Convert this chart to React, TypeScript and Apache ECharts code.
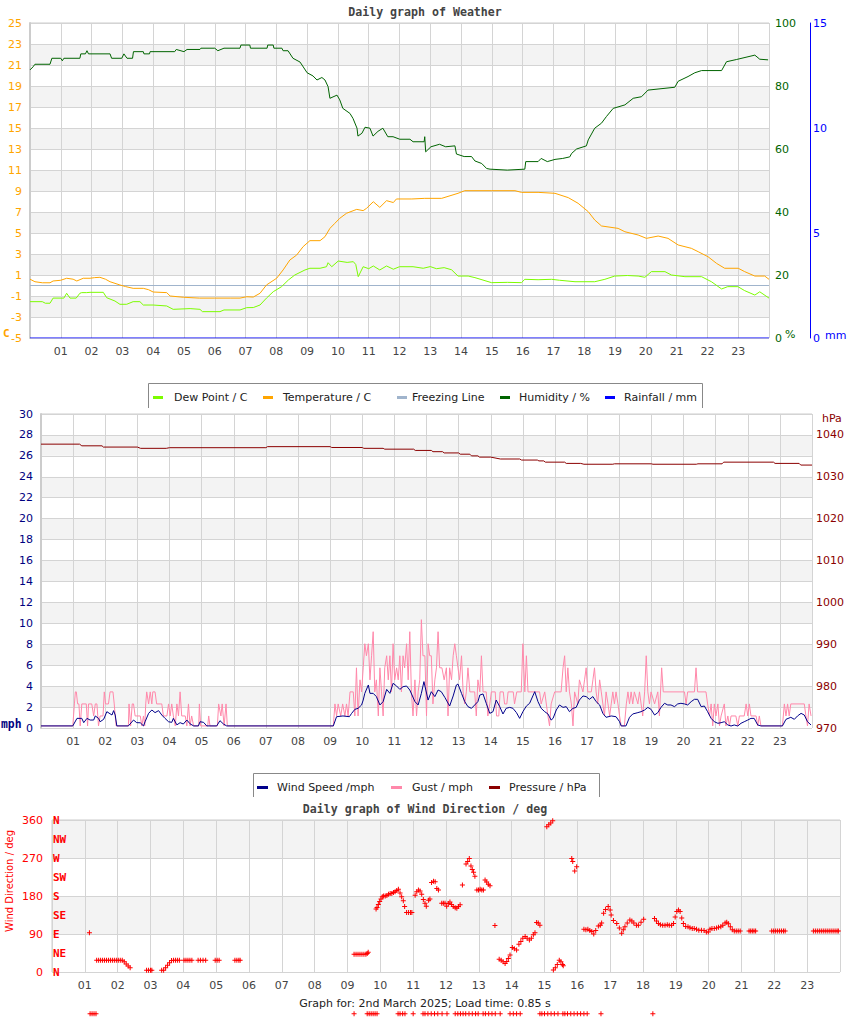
import React, { useEffect, useRef } from 'react';
import * as echarts from 'echarts';

const SANS = '"DejaVu Sans", sans-serif';
const MONO = '"DejaVu Sans Mono", monospace';

const hourLabels = ['01','02','03','04','05','06','07','08','09','10','11','12','13','14','15','16','17','18','19','20','21','22','23'];
const compassLabels = ['N', 'NE', 'E', 'SE', 'S', 'SW', 'W', 'NW', 'N'];

const legendWeather = ['Dew Point / C', 'Temperature / C', 'Freezing Line', 'Humidity / %', 'Rainfall / mm'];
const legendWind = ['Wind Speed /mph', 'Gust / mph', 'Pressure / hPa'];

// [hour, °C]
const temperature: [number, number][] = [
  [0,0.6],[0.16,0.36],[0.4,0.26],[0.65,0.26],[0.75,0.43],[1.0,0.5],[1.19,0.69],[1.4,0.6],[1.52,0.43],[1.73,0.69],[1.95,0.69],[2.1,0.75],[2.27,0.78],[2.45,0.6],[2.6,0.36],[2.92,0.05],[3.1,-0.1],[3.35,-0.27],[3.68,-0.27],[3.85,-0.4],[4.0,-0.62],[4.44,-0.68],[4.55,-1.0],[4.98,-1.12],[5.5,-1.2],[6.0,-1.2],[6.5,-1.2],[6.82,-1.2],[7.04,-1.07],[7.25,-1.1],[7.47,-0.74],[7.68,0.05],[8.01,0.69],[8.22,1.48],[8.44,2.43],[8.66,2.9],[8.87,3.7],[9.09,4.27],[9.42,4.27],[9.58,4.65],[9.74,5.44],[9.9,5.92],[10.06,6.4],[10.28,6.88],[10.61,7.25],[10.82,7.13],[10.93,7.35],[11.15,7.98],[11.36,7.44],[11.58,8.08],[11.8,7.9],[11.9,8.24],[12.4,8.24],[12.82,8.3],[13.37,8.3],[13.9,8.78],[14.12,9.03],[15.0,9.03],[15.75,9.03],[15.96,8.87],[16.5,8.87],[17.05,8.78],[17.48,8.37],[17.8,7.83],[18.13,7.03],[18.34,6.24],[18.56,5.67],[19.1,5.44],[19.32,5.12],[19.75,4.81],[20.02,4.49],[20.4,4.71],[20.72,4.49],[21.05,3.86],[21.48,3.54],[21.7,3.22],[22.02,2.74],[22.3,2.1],[22.56,1.64],[23.0,1.64],[23.21,1.32],[23.54,0.9],[23.86,0.9],[24,0.59]
];

// [hour, °C]
const dewPoint: [number, number][] = [
  [0,-1.54],[0.4,-1.54],[0.5,-1.69],[0.65,-1.69],[0.75,-1.2],[1.1,-1.2],[1.19,-0.74],[1.3,-1.2],[1.5,-1.2],[1.62,-0.74],[1.68,-0.68],[1.84,-0.68],[1.95,-0.65],[2.38,-0.65],[2.49,-1.16],[2.76,-1.48],[2.92,-1.79],[3.14,-1.79],[3.35,-1.54],[3.57,-1.54],[3.68,-1.86],[4.0,-1.86],[4.44,-1.95],[4.65,-2.27],[5.2,-2.2],[5.52,-2.27],[5.6,-2.49],[6.17,-2.49],[6.3,-2.33],[6.82,-2.33],[7.04,-2.11],[7.25,-2.1],[7.47,-1.86],[7.68,-1.2],[7.9,-0.59],[8.17,-0.11],[8.39,0.52],[8.6,1.0],[8.93,1.48],[9.09,1.64],[9.42,1.64],[9.63,1.79],[9.68,2.17],[9.8,1.79],[10.01,2.33],[10.3,2.2],[10.5,2.27],[10.58,2.0],[10.66,0.84],[10.82,1.79],[11.0,1.6],[11.15,1.86],[11.36,1.48],[11.58,1.86],[11.8,1.55],[12.0,1.79],[12.44,1.79],[12.77,1.64],[13.0,1.8],[13.2,1.6],[13.45,1.7],[13.69,1.5],[13.9,0.9],[14.23,0.9],[14.45,0.75],[14.99,0.27],[15.5,0.3],[15.96,0.27],[16.07,0.59],[16.5,0.55],[16.94,0.59],[17.2,0.5],[17.7,0.36],[18.34,0.36],[18.67,0.59],[18.99,0.9],[19.4,0.95],[19.75,0.9],[19.97,0.78],[20.18,1.32],[20.62,1.32],[20.83,1.0],[21.27,0.84],[21.81,0.84],[22.13,0.36],[22.46,-0.33],[22.66,-0.11],[22.99,-0.11],[23.21,-0.49],[23.54,-0.91],[23.7,-0.6],[24,-1.2]
];

// [hour, %]
const humidity: [number, number][] = [
  [0,85.1],[0.1,86.1],[0.16,86.9],[0.65,86.9],[0.71,88.8],[1.0,88.8],[1.05,88.0],[1.1,88.8],[1.62,88.8],[1.65,90.2],[1.8,90.2],[1.85,91.2],[1.9,90.2],[2.6,90.2],[2.65,88.8],[2.98,88.8],[3.05,90.2],[3.15,88.8],[3.33,88.8],[3.36,90.9],[3.68,90.9],[3.7,90.2],[3.88,90.2],[3.9,90.9],[4.7,90.9],[4.75,91.6],[5.0,90.9],[5.1,91.6],[5.52,91.6],[5.55,92.0],[6.0,92.0],[6.1,91.2],[6.3,92.0],[6.82,92.0],[6.85,93.0],[7.14,93.0],[7.16,92.0],[7.7,92.0],[7.72,93.0],[7.9,93.0],[7.92,92.0],[8.18,92.0],[8.22,91.2],[8.38,91.2],[8.54,88.8],[8.77,87.6],[9.0,84.2],[9.19,83.2],[9.32,81.9],[9.48,82.7],[9.58,81.9],[9.68,79.8],[9.74,76.1],[9.97,77.1],[10.06,75.6],[10.16,72.9],[10.39,71.3],[10.49,69.7],[10.62,66.6],[10.65,64.1],[10.78,65.0],[10.88,66.9],[11.04,66.6],[11.14,64.1],[11.3,65.6],[11.46,66.6],[11.62,63.9],[11.79,63.9],[12.01,63.1],[12.34,63.1],[12.44,62.3],[12.8,62.3],[12.82,63.9],[12.85,59.1],[13.02,60.7],[13.3,61.5],[13.5,60.7],[13.8,61.0],[13.85,58.4],[14.1,57.6],[14.34,57.6],[14.45,56.2],[14.67,55.4],[14.83,53.8],[14.94,53.6],[15.5,53.3],[16.07,53.6],[16.1,56.0],[16.5,56.0],[16.6,57.0],[16.8,56.0],[17.05,56.7],[17.3,57.0],[17.53,57.5],[17.59,58.6],[17.75,60.0],[18.07,61.0],[18.13,62.9],[18.34,66.6],[18.56,68.2],[18.72,70.3],[18.94,72.9],[19.32,74.0],[19.59,76.1],[19.86,76.6],[20.07,78.7],[20.94,79.6],[21.05,81.5],[21.37,83.0],[21.59,84.2],[21.81,84.9],[22.46,84.9],[22.62,87.7],[22.94,88.4],[23.54,89.8],[23.7,88.5],[23.97,88.3]
];

const freezingLine: [number, number][] = [[0, 0], [24, 0]];
const rainfall: [number, number][] = [[0, 0], [24, 0]];

// [hour, mph]
const windSpeed: [number, number][] = [
  [0,0.2],[0.99,0.2],[1.12,0.92],[1.27,0.92],[1.33,0.51],[1.43,0.92],[1.53,0.76],[1.64,0.76],[1.69,1.15],[1.79,0.92],[1.84,0.6],[1.95,0.83],[2.05,1.56],[2.21,1.24],[2.26,1.66],[2.31,1.24],[2.36,0.2],[2.72,0.2],[2.88,0.76],[2.98,0.51],[3.09,0.5],[3.19,0.2],[3.24,0.6],[3.35,1.4],[3.45,1.72],[3.55,1.47],[3.66,1.66],[3.76,1.24],[3.86,0.92],[3.97,0.6],[4.07,0.54],[4.12,0.92],[4.23,0.3],[4.33,0.51],[4.43,0.38],[4.54,0.76],[4.64,0.4],[4.75,0.2],[4.9,0.2],[4.95,0.6],[5.06,0.54],[5.16,0.2],[5.47,0.2],[5.57,0.7],[5.68,0.38],[5.78,0.2],[9.1,0.2],[9.2,1.08],[9.4,1.15],[9.6,1.08],[9.67,1.4],[9.77,1.78],[9.87,1.88],[9.98,2.2],[10.03,2.67],[10.08,3.31],[10.19,4.11],[10.24,3.31],[10.34,3.31],[10.44,3.0],[10.55,2.2],[10.65,2.52],[10.76,3.69],[10.86,3.31],[10.96,4.27],[11.07,4.01],[11.17,3.69],[11.27,3.95],[11.38,4.01],[11.48,3.63],[11.64,2.52],[11.74,2.2],[11.84,3.31],[11.92,4.43],
  [12.05,2.67],[12.15,3.47],[12.26,3.0],[12.36,3.63],[12.46,3.47],[12.57,2.93],[12.72,2.1],[12.83,3.06],[12.93,4.11],[12.98,4.2],[13.09,3.31],[13.19,2.52],[13.29,2.04],[13.4,1.88],[13.5,2.2],[13.6,2.52],[13.66,3.15],[13.76,3.25],[13.86,2.36],[13.97,1.4],[14.07,1.56],[14.17,2.67],[14.28,2.04],[14.38,1.34],[14.48,1.88],[14.59,1.97],[14.69,1.88],[14.8,1.47],[14.9,0.92],[15.0,1.56],[15.11,2.1],[15.21,2.36],[15.31,3.06],[15.37,3.47],[15.47,2.52],[15.57,1.88],[15.68,1.56],[15.78,1.34],[15.88,0.76],[15.94,0.92],[16.04,1.72],[16.14,2.2],[16.25,1.97],[16.35,2.04],[16.45,1.56],[16.56,1.88],[16.66,1.97],[16.76,2.67],[16.87,3.06],[16.97,3.0],[17.07,2.74],[17.18,3.0],[17.28,2.52],[17.39,2.2],[17.49,1.4],[17.59,1.02],[17.75,1.15],[17.9,1.08],[18.01,0.6],[18.06,0.2],[18.21,0.2],[18.32,1.02],[18.42,1.34],[18.58,1.47],[18.68,1.56],[18.79,1.72],[18.89,1.97],[18.99,1.78],[19.1,1.24],[19.2,1.47],[19.3,1.97],[19.41,2.36],[19.51,2.2],[19.61,2.2],[19.72,2.04],[19.82,2.3],[19.92,2.36],[20.03,2.3],[20.13,2.2],[20.24,2.52],[20.34,2.74],[20.44,2.74],[20.55,2.04],[20.65,2.1],[20.75,1.56],[20.86,0.92],[20.96,0.6],[21.07,0.45],[21.17,0.51],[21.27,0.6],[21.38,0.29],[21.48,0.19],[21.58,0.29],[21.69,0.19],[21.79,0.45],[21.89,0.6],[22.0,0.76],[22.1,0.92],[22.2,0.92],[22.31,0.29],[22.41,0.2],[23.08,0.2],[23.19,0.83],[23.34,1.02],[23.45,0.83],[23.55,1.15],[23.66,1.4],[23.76,1.24],[23.86,0.6],[23.97,0.29]
];

// [hour, mph]
const gust: [number, number][] = [
  [0,0.2],[0.99,0.2],[1.04,2.3],[1.07,3.45],[1.1,3.45],[1.14,2.3],[1.18,2.3],[1.22,0.2],[1.27,2.3],[1.41,2.3],[1.45,0.2],[1.48,2.3],[1.58,2.3],[1.64,1.15],[1.69,2.3],[1.74,2.3],[1.79,0.2],[1.84,1.15],[1.93,1.15],[1.97,3.45],[2.01,2.3],[2.1,2.3],[2.15,3.45],[2.24,3.45],[2.28,2.3],[2.31,1.15],[2.34,0.2],
  [2.72,0.2],[2.74,2.3],[2.79,0.2],[2.84,2.3],[2.88,2.3],[2.93,1.15],[3.09,1.15],[3.14,0.2],[3.19,1.15],[3.23,0.2],[3.26,2.3],[3.29,3.45],[3.35,2.3],[3.4,3.45],[3.45,2.3],[3.48,3.45],[3.55,3.45],[3.6,2.3],[3.71,2.3],[3.76,2.3],[3.81,1.15],[3.92,1.15],[3.97,2.3],[4.02,1.15],[4.07,2.3],[4.12,1.15],[4.18,0.2],[4.23,2.3],[4.28,1.15],[4.33,3.45],[4.38,1.15],[4.49,1.15],[4.54,0.2],[4.59,2.3],[4.64,0.2],[4.69,1.15],[4.75,0.2],[4.91,0.2],[4.93,2.3],[4.97,0.2],[5.19,0.2],[5.22,1.15],[5.26,0.2],[5.49,0.2],[5.53,2.3],[5.6,1.15],[5.64,2.3],[5.7,0.2],[5.76,2.3],[5.8,0.2],
  [9.1,0.2],[9.15,2.3],[9.2,1.15],[9.25,2.3],[9.33,1.15],[9.39,2.3],[9.46,1.15],[9.51,2.3],[9.56,1.15],[9.62,3.45],[9.72,3.45],[9.77,1.15],[9.82,5.75],[9.87,1.15],[9.93,4.6],[9.98,3.45],[10.03,5.75],[10.08,8.05],[10.13,6.9],[10.19,8.05],[10.24,4.6],[10.29,6.9],[10.34,9.2],[10.39,3.45],[10.44,4.6],[10.5,1.15],[10.55,5.75],[10.6,3.45],[10.65,1.15],[10.7,5.75],[10.76,6.9],[10.81,4.6],[10.86,6.9],[10.91,3.45],[10.96,8.05],[11.01,4.6],[11.07,5.75],[11.12,4.6],[11.17,6.9],[11.22,3.45],[11.27,6.9],[11.32,5.75],[11.38,8.05],[11.43,4.6],[11.48,9.2],[11.53,3.45],[11.58,1.15],[11.64,4.6],[11.69,1.15],[11.74,3.45],[11.79,4.6],[11.84,10.35],[11.89,6.9],[11.95,6.9],
  [12.0,1.15],[12.05,8.05],[12.1,6.9],[12.15,6.9],[12.2,2.3],[12.26,4.6],[12.31,5.75],[12.36,9.2],[12.41,5.75],[12.48,5.75],[12.55,4.6],[12.62,5.75],[12.67,1.15],[12.72,5.75],[12.78,4.6],[12.83,6.9],[12.88,8.05],[12.93,6.9],[12.98,5.75],[13.03,4.6],[13.09,6.9],[13.14,3.45],[13.19,2.3],[13.24,3.45],[13.29,5.75],[13.35,3.45],[13.5,3.45],[13.55,1.15],[13.6,4.6],[13.66,3.45],[13.71,6.9],[13.76,3.45],[13.86,3.45],[13.91,1.15],[13.97,2.3],[14.02,3.45],[14.14,3.45],[14.18,1.15],[14.25,1.15],[14.29,3.45],[14.39,3.45],[14.43,2.3],[14.5,2.3],[14.54,3.45],[14.7,3.45],[14.74,2.3],[14.81,3.45],[14.95,3.45],[15.0,8.05],[15.06,3.45],[15.11,6.9],[15.16,3.45],[15.52,3.45],[15.57,2.3],[15.68,3.45],[15.78,1.15],[15.83,0.2],[15.88,2.3],[15.99,3.45],[16.19,3.45],[16.25,5.75],[16.3,6.9],[16.35,3.45],[16.4,5.75],[16.45,3.45],[16.51,2.3],[16.56,0.2],[16.61,3.45],[16.71,2.3],[16.76,4.6],[16.87,3.45],[16.92,4.6],[16.97,5.75],[17.02,3.45],[17.13,3.45],[17.18,4.6],[17.23,5.75],[17.28,3.45],[17.33,2.3],[17.39,4.6],[17.44,3.45],[17.49,2.3],[17.54,1.15],[17.59,3.45],[17.65,2.3],[17.7,1.15],[17.75,2.3],[17.8,3.45],[17.85,2.3],[17.9,3.45],[17.96,2.3],[18.01,1.15],[18.06,0.2],[18.16,0.2],[18.22,2.3],[18.27,3.45],[18.32,2.3],[18.37,3.45],[18.42,2.3],[18.47,3.45],[18.58,2.3],[18.63,3.45],[18.68,2.3],[18.73,1.15],[18.79,3.45],[18.84,6.9],[18.89,3.45],[18.94,2.3],[18.99,3.45],[19.1,2.3],[19.2,3.45],[19.25,1.15],[19.32,5.75],[19.37,3.45],[20.03,3.45],[20.08,2.3],[20.13,3.45],[20.34,3.45],[20.39,5.75],[20.44,3.45],[20.7,3.45],[20.75,2.3],[20.81,1.15],[20.86,2.3],[20.91,0.2],[20.96,2.3],[21.01,1.15],[21.07,2.3],[21.12,0.2],[21.17,1.15],[21.27,2.3],[21.32,0.2],[21.38,1.15],[21.43,0.2],[21.48,1.15],[21.63,1.15],[21.69,0.2],[21.74,1.15],[21.89,1.15],[21.95,2.3],[22.0,1.15],[22.05,2.3],[22.1,1.15],[22.26,1.15],[22.31,0.2],[22.36,1.15],[22.41,0.2],[23.08,0.2],[23.14,2.3],[23.19,1.15],[23.24,2.3],[23.29,1.15],[23.34,2.3],[23.76,2.3],[23.81,1.15],[23.86,0.2],[23.91,2.3],[23.97,1.15]
];

// [hour, hPa]
const pressure: [number, number][] = [
  [0,1037.8],[1.2,1037.8],[1.27,1037.4],[1.9,1037.4],[1.94,1037.1],[3.0,1037.1],[3.1,1036.8],[3.9,1036.8],[4.0,1036.95],[7.0,1036.95],[7.05,1037.2],[9.0,1037.2],[9.05,1037.0],[10.0,1037.0],[10.05,1036.8],[10.65,1036.8],[10.7,1036.6],[11.6,1036.6],[11.65,1036.3],[12.15,1036.3],[12.2,1036.0],[12.5,1036.0],[12.55,1035.7],[13.0,1035.7],[13.05,1035.4],[13.35,1035.4],[13.4,1035.0],[13.6,1035.0],[13.65,1034.7],[14.0,1034.7],[14.3,1034.25],[14.9,1034.25],[14.96,1034.0],[15.45,1034.0],[15.5,1033.8],[15.65,1033.8],[15.7,1033.5],[16.3,1033.5],[16.35,1033.2],[16.8,1033.2],[16.9,1033.0],[17.8,1033.0],[17.85,1033.1],[19.0,1033.1],[19.05,1033.0],[20.4,1033.0],[20.45,1033.1],[21.2,1033.1],[21.25,1033.5],[22.8,1033.5],[22.85,1033.2],[23.6,1033.2],[23.65,1032.8],[24,1032.8]
];

// [hour, degrees]
const windDirection: [number, number][] = [
  [1.14,93],
  [1.36,28],[1.42,28],[1.48,28],[1.54,28],[1.6,28],[1.66,28],[1.72,28],[1.78,28],[1.84,28],[1.9,28],[1.96,28],[2.02,28],[2.08,28],[2.14,28],[2.2,24],[2.26,19],[2.32,14],[2.38,10],
  [2.88,4],[2.94,4],[3.0,4],[3.04,4],
  [3.34,4],[3.4,4],[3.46,10],[3.52,16],[3.58,22],[3.64,27],[3.7,28],[3.76,28],[3.82,28],[3.88,28],
  [4.02,28],[4.08,28],[4.14,28],[4.2,28],[4.26,28],
  [4.45,28],[4.52,28],[4.6,28],[4.68,28],
  [4.97,28],[5.03,28],[5.09,28],
  [5.57,28],[5.63,28],[5.69,28],[5.73,28],
  [9.2,42],[9.26,42],[9.32,42],[9.38,42],[9.44,42],[9.5,42],[9.56,42],[9.6,44],[9.63,47],
  [9.87,149],[9.9,153],[9.94,160],[9.98,167],[10.02,173],[10.06,178],[10.1,180],[10.15,180],[10.2,181],[10.25,184],[10.3,186],[10.35,186],[10.4,188],[10.45,190],[10.5,193],[10.55,196],[10.6,187],[10.65,178],[10.7,169],[10.74,155],[10.8,141],[10.86,141],[10.92,141],[10.96,141],
  [11.06,182],[11.11,190],[11.16,194],[11.21,192],[11.26,184],[11.31,172],[11.36,163],[11.4,156],[11.47,170],[11.51,173],
  [11.56,212],[11.62,215],[11.67,214],[11.72,198],[11.77,194],
  [11.87,163],[11.92,163],[11.97,163],[12.02,156],[12.07,162],[12.12,166],[12.17,160],[12.22,155],[12.28,152],[12.33,151],[12.38,155],[12.43,159],
  [12.5,206],
  [12.61,256],[12.66,262],[12.71,269],[12.76,251],[12.8,243],[12.84,236],[12.88,227],
  [12.94,194],[12.99,194],[13.04,196],[13.09,194],[13.14,194],
  [13.19,218],[13.24,213],[13.29,208],[13.34,204],
  [13.49,110],
  [13.62,30],[13.68,28],[13.74,24],[13.8,20],[13.85,25],[13.9,32],[13.95,40],
  [14.02,58],[14.08,55],[14.15,52],
  [14.22,66],[14.28,72],[14.34,80],[14.41,84],[14.47,80],[14.54,76],[14.6,80],[14.66,88],[14.71,93],
  [14.76,117],[14.81,116],[14.86,111],
  [15.07,344],[15.13,349],[15.19,353],[15.25,358],
  [15.27,5],[15.33,10],[15.39,18],[15.45,28],[15.5,24],[15.55,18],[15.57,15],
  [15.83,269],[15.86,262],[15.92,239],[15.98,249],
  [16.2,101],[16.26,100],[16.32,101],[16.38,98],[16.44,96],[16.5,90],[16.56,98],[16.64,109],[16.7,111],[16.74,116],[16.8,139],[16.86,148],[16.94,155],[17.0,147],[17.03,135],[17.1,122],[17.2,115],[17.28,104],[17.35,92],[17.4,100],[17.45,107],[17.52,116],[17.6,123],[17.66,121],[17.72,116],[17.8,111],[17.86,111],[17.94,118],[18.02,125],
  [18.35,127],[18.41,121],[18.47,115],[18.53,112],[18.6,111],[18.67,111],[18.74,112],[18.8,111],[18.87,111],[18.93,115],[18.98,130],[19.03,143],[19.08,147],[19.13,143],[19.18,128],[19.23,115],[19.3,108],[19.37,107],[19.43,105],[19.5,103],[19.56,103],[19.63,101],[19.7,99],[19.78,99],[19.86,98],[19.93,95],[19.99,95],[20.04,101],[20.1,103],[20.17,103],[20.24,104],[20.3,106],[20.37,107],[20.43,111],[20.5,116],[20.55,118],[20.6,114],[20.66,107],[20.72,100],[20.78,97],[20.84,97],[20.9,97],[20.96,97],
  [21.23,97],[21.28,97],[21.33,97],[21.38,97],[21.43,97],
  [21.92,97],[21.98,97],[22.04,97],[22.1,97],[22.16,97],[22.22,97],[22.28,97],[22.33,97],
  [23.19,97],[23.25,97],[23.31,97],[23.37,97],[23.43,97],[23.49,97],[23.55,97],[23.61,97],[23.67,97],[23.73,97],[23.79,97],[23.85,97],[23.91,97],[23.95,97]
];

// points drawn below the direction plot, [hour, degrees]
const directionBelow: [number, number][] = [
  [1.16,-99],[1.22,-99],[1.28,-99],[1.34,-99],[9.2,-99],[9.6,-99],[9.66,-99],[9.72,-99],[9.78,-99],[9.84,-99],[9.9,-99],
  [10.54,-99],[10.6,-99],[10.68,-99],[10.75,-99],[11.0,-99],[11.3,-99],[11.36,-99],[11.45,-99],[11.55,-99],[11.65,-99],[11.75,-99],[11.88,-99],[12.03,-99],
  [12.28,-99],[12.36,-99],[12.44,-99],[12.52,-99],[12.6,-99],[12.7,-99],[12.8,-99],[12.9,-99],[12.98,-99],[13.13,-99],[13.2,-99],[13.3,-99],[13.4,-99],[13.5,-99],[13.65,-99],
  [13.95,-99],[14.05,-99],[14.15,-99],[14.26,-99],[14.86,-99],[14.92,-99],[15.0,-99],[15.1,-99],[15.2,-99],[15.3,-99],[15.41,-99],
  [15.56,-99],[15.62,-99],[15.7,-99],[15.8,-99],[15.9,-99],[16.0,-99],[16.1,-99],[16.2,-99],[16.3,-99],[16.72,-99],[18.3,-99]
];

const PLUS = 'path://M2 0h1v5h-1zM0 2h5v1h-5z';
const GRID_LINE = '#d4d4d4';
const BANDS = ['#ffffff', '#f3f3f3'];

function hourAxis(gridIndex: number) {
  return {
    type: 'value', gridIndex, min: 0, max: 24, interval: 1,
    axisLine: { show: false }, axisTick: { show: false },
    splitLine: { show: true, lineStyle: { color: GRID_LINE, width: 1 } },
    axisLabel: {
      color: '#444', fontSize: 11, fontFamily: SANS, margin: 8,
      formatter: (v: number) => hourLabels[v - 1] ?? '',
    },
  };
}

function lineSeries(name: string, data: [number, number][], color: string, xAxisIndex: number, yAxisIndex: number, z = 2) {
  return {
    name, type: 'line', data, xAxisIndex, yAxisIndex, z,
    symbol: 'none', showSymbol: false, silent: true,
    lineStyle: { color, width: 1 }, itemStyle: { color },
  };
}

function legendGraphic(names: string[], colors: string[], iconX: number[], textX: number[], box: number[], cy: number, iconW: number) {
  const els: any[] = [
    { type: 'polyline', z: 100, shape: { points: [[box[0], box[3]], [box[0], box[1]], [box[2], box[1]], [box[2], box[3]]] }, style: { stroke: '#888', fill: null, lineWidth: 1 } },
  ];
  names.forEach((n, i) => {
    els.push({ type: 'rect', z: 100, shape: { x: iconX[i], y: cy - 1, width: iconW, height: 3 }, style: { fill: colors[i] } });
    els.push({ type: 'text', z: 100, x: textX[i], y: cy + 0.5, style: { text: n, fill: '#222', font: `11px ${SANS}`, textAlign: 'left', textVerticalAlign: 'middle' } });
  });
  return els;
}

export default function App() {
  const ref = useRef<HTMLDivElement>(null);
  useEffect(() => {
    const chart = echarts.init(ref.current!, null, { renderer: 'svg' });
    const weatherColors = ['#7cfc00', '#ffa500', '#a0b4cc', '#006400', '#0000ff'];
    const windColors = ['#00008b', '#ff88aa', '#8b0000'];
    const plain = (v: number) => String(v);
    const option: any = {
      animation: false,
      backgroundColor: '#fff',
      title: [
        { text: 'Daily graph of Weather', left: 'center', top: 6, padding: 0, textStyle: { fontFamily: MONO, fontWeight: 'bold', fontSize: 11.6, color: '#444' } },
        { text: 'Daily graph of Wind Direction / deg', left: 'center', top: 803, padding: 0, textStyle: { fontFamily: MONO, fontWeight: 'bold', fontSize: 11.6, color: '#444' } },
        { text: 'Graph for: 2nd March 2025; Load time: 0.85 s', left: 'center', top: 998, padding: 0, textStyle: { fontFamily: SANS, fontWeight: 'normal', fontSize: 11, color: '#222' } },
      ],
      grid: [
        { left: 30, top: 23, width: 739, height: 315, show: true, borderColor: '#ccc', borderWidth: 1, backgroundColor: '#fff', containLabel: false, outerBoundsMode: 'none' },
        { left: 41, top: 414, width: 771, height: 314, show: true, borderColor: '#ccc', borderWidth: 1, backgroundColor: '#fff', containLabel: false, outerBoundsMode: 'none' },
        { left: 52, top: 820, width: 788, height: 152, show: true, borderColor: '#ccc', borderWidth: 1, backgroundColor: '#fff', containLabel: false, outerBoundsMode: 'none' },
      ],
      xAxis: [hourAxis(0), hourAxis(1), hourAxis(2)],
      yAxis: [
        { type: 'value', gridIndex: 0, position: 'left', min: -5, max: 25, interval: 2,
          axisLine: { show: true, lineStyle: { color: '#ccc', width: 2 } }, axisTick: { show: false },
          axisLabel: { color: '#ffa500', fontSize: 11, fontFamily: SANS, margin: 8, formatter: plain },
          splitLine: { show: true, lineStyle: { color: GRID_LINE } },
          splitArea: { show: true, areaStyle: { color: BANDS } } },
        { type: 'value', gridIndex: 0, position: 'right', min: 0, max: 100, interval: 20,
          axisLine: { show: false }, axisTick: { show: false }, splitLine: { show: false },
          axisLabel: { color: '#006400', fontSize: 11, fontFamily: SANS, margin: 6, formatter: plain } },
        { type: 'value', gridIndex: 0, position: 'right', offset: 41, min: 0, max: 15, interval: 5,
          axisLine: { show: true, lineStyle: { color: '#0000ff', width: 1 } }, axisTick: { show: false }, splitLine: { show: false },
          axisLabel: { color: '#0000ff', fontSize: 11, fontFamily: SANS, margin: 3, formatter: plain } },
        { type: 'value', gridIndex: 1, position: 'left', min: 0, max: 30, interval: 2,
          axisLine: { show: true, lineStyle: { color: '#ccc', width: 2 } }, axisTick: { show: false },
          axisLabel: { color: '#000080', fontSize: 11, fontFamily: SANS, margin: 8, formatter: plain },
          splitLine: { show: true, lineStyle: { color: GRID_LINE } },
          splitArea: { show: true, areaStyle: { color: BANDS } } },
        { type: 'value', gridIndex: 1, position: 'right', min: 970, max: 1045, interval: 10,
          axisLine: { show: false }, axisTick: { show: false }, splitLine: { show: false },
          axisLabel: { color: '#8b0000', fontSize: 11, fontFamily: SANS, margin: 4, showMaxLabel: false, formatter: plain } },
        { type: 'value', gridIndex: 2, position: 'left', min: 0, max: 360, interval: 90,
          axisLine: { show: false }, axisTick: { show: false },
          axisLabel: { color: '#ff0000', fontSize: 11, fontFamily: SANS, margin: 9, formatter: plain },
          splitLine: { show: true, lineStyle: { color: GRID_LINE } },
          splitArea: { show: true, areaStyle: { color: BANDS } } },
        { type: 'value', gridIndex: 2, position: 'left', min: 0, max: 360, interval: 45,
          axisLine: { show: false }, axisTick: { show: false }, splitLine: { show: false },
          axisLabel: { inside: true, margin: 1, color: '#ff0000', fontSize: 11, fontWeight: 'bold', fontFamily: MONO,
            formatter: (v: number) => compassLabels[Math.round(v / 45)] ?? '' } },
      ],
      series: [
        lineSeries(legendWeather[2], freezingLine, weatherColors[2], 0, 0, 2),
        lineSeries(legendWeather[4], rainfall, weatherColors[4], 0, 2, 3),
        lineSeries(legendWeather[3], humidity, weatherColors[3], 0, 1, 3),
        lineSeries(legendWeather[1], temperature, weatherColors[1], 0, 0, 3),
        lineSeries(legendWeather[0], dewPoint, weatherColors[0], 0, 0, 3),
        lineSeries(legendWind[1], gust, windColors[1], 1, 3, 2),
        lineSeries(legendWind[0], windSpeed, windColors[0], 1, 3, 3),
        lineSeries(legendWind[2], pressure, windColors[2], 1, 4, 3),
        { name: 'Wind Direction', type: 'scatter', xAxisIndex: 2, yAxisIndex: 5, data: windDirection,
          symbol: PLUS, symbolSize: 5, itemStyle: { color: '#ff0000', opacity: 1 }, silent: true },
        { name: 'Wind Direction (below)', type: 'scatter', xAxisIndex: 2, yAxisIndex: 5, data: directionBelow, clip: false,
          symbol: PLUS, symbolSize: 5, itemStyle: { color: '#ff0000', opacity: 1 }, silent: true },
      ],
      graphic: [
        ...legendGraphic(legendWeather, weatherColors, [153, 263, 397, 500, 605], [174, 283, 412, 519, 624], [148.5, 383.5, 702.5, 408], 397, 10),
        ...legendGraphic(legendWind, windColors, [257, 391, 489], [277, 412, 509], [253.5, 773.5, 599.5, 797], 787, 11),
        { type: 'text', z: 100, x: 3, y: 333, style: { text: 'C', fill: '#ffa500', font: `bold 11px ${MONO}`, textAlign: 'left', textVerticalAlign: 'middle' } },
        { type: 'text', z: 100, x: 785, y: 334, style: { text: '%', fill: '#006400', font: `11px ${SANS}`, textAlign: 'left', textVerticalAlign: 'middle' } },
        { type: 'text', z: 100, x: 825, y: 335, style: { text: 'mm', fill: '#0000ff', font: `11px ${SANS}`, textAlign: 'left', textVerticalAlign: 'middle' } },
        { type: 'text', z: 100, x: 1, y: 723.5, style: { text: 'mph', fill: '#000080', font: `bold 11.4px ${MONO}`, textAlign: 'left', textVerticalAlign: 'middle' } },
        { type: 'text', z: 100, x: 822, y: 418, style: { text: 'hPa', fill: '#8b0000', font: `11px ${SANS}`, textAlign: 'left', textVerticalAlign: 'middle' } },
        { type: 'text', z: 100, x: 9, y: 881, rotation: Math.PI / 2, style: { text: 'Wind Direction / deg', fill: '#ff0000', font: `10px ${SANS}`, textAlign: 'center', textVerticalAlign: 'middle' } },
      ],
    };
    chart.setOption(option);
    return () => chart.dispose();
  }, []);
  return <div ref={ref} style={{ position: 'absolute', left: 0, top: 0, width: 850, height: 1017 }} />;
}
